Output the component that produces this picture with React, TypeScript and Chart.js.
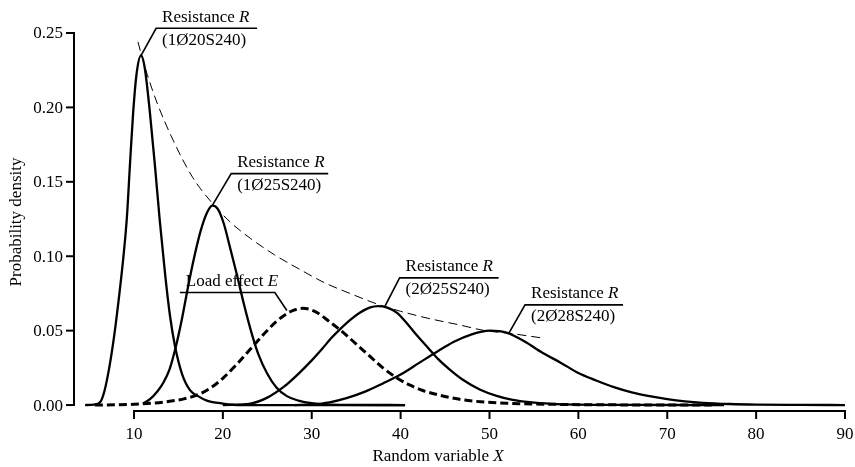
import React, { useEffect, useRef } from "react";
import { Chart, registerables } from "chart.js";

Chart.register(...registerables);

// ---- Data ----
const R1_X = [4.5, 5.5, 6.2, 6.7, 7.3, 7.85, 8.4, 8.8, 9.2, 9.55, 9.9, 10.3, 10.8, 11.2, 11.8, 12.4, 12.9, 13.5, 14.05, 14.6, 15.4, 16.3, 17.2, 18.2, 20, 22, 40.5];
const R1_Y = [0, 0.0003, 0.002, 0.01, 0.028, 0.05, 0.077, 0.099, 0.126, 0.162, 0.196, 0.223, 0.235, 0.227, 0.196, 0.158, 0.124, 0.088, 0.06, 0.04, 0.021, 0.01, 0.006, 0.003, 0.001, 0, 0];

const R2_X = [11.0, 11.8, 12.6, 13.3, 14.0, 14.7, 15.4, 16.1, 16.8, 17.5, 18.2, 18.8, 19.4, 20.1, 20.8, 21.6, 22.4, 23.2, 24.0, 25.0, 26.0, 27.2, 28.5, 30, 32, 40.5];
const R2_Y = [0.001, 0.004, 0.009, 0.015, 0.024, 0.039, 0.058, 0.08, 0.1, 0.117, 0.129, 0.134, 0.132, 0.122, 0.106, 0.087, 0.067, 0.049, 0.034, 0.021, 0.012, 0.006, 0.003, 0.0012, 0.0003, 0];

const LOAD_X = [5.6, 8, 10, 12, 14, 15.5, 17, 18.5, 20, 21.5, 23, 24.5, 26, 27.5, 29, 30.5, 32, 33.5, 35, 36.5, 38, 39.5, 41, 42.5, 44.5, 46.5, 49, 52, 56, 62, 75];
const LOAD_Y = [0, 0.0002, 0.0005, 0.0012, 0.0025, 0.004, 0.0065, 0.011, 0.018, 0.027, 0.037, 0.047, 0.056, 0.0625, 0.065, 0.0625, 0.056, 0.049, 0.041, 0.033, 0.025, 0.0185, 0.0135, 0.0098, 0.0065, 0.004, 0.0022, 0.0012, 0.0006, 0.0002, 0];

const R3_X = [20, 23.1, 25, 26.8, 28.5, 30.0, 31.2, 32.2, 33.2, 34.3, 35.4, 36.5, 37.5, 38.5, 39.6, 40.7, 41.8, 43.0, 44.2, 45.5, 47, 48.9, 50.8, 52.6, 54.5, 57, 60, 65, 76.4];
const R3_Y = [0, 0.001, 0.005, 0.012, 0.021, 0.03, 0.038, 0.045, 0.051, 0.057, 0.062, 0.0655, 0.0665, 0.0655, 0.062, 0.055, 0.047, 0.039, 0.031, 0.024, 0.017, 0.0105, 0.0062, 0.0035, 0.0019, 0.0008, 0.0003, 0.0001, 0];

const R4_X = [28, 30, 32, 34, 36, 38, 40, 42, 44, 46, 48, 50, 52, 54, 56, 58, 60, 62, 64, 66, 68, 70, 72, 74, 77, 80, 85, 90];
const R4_Y = [0, 0.0004, 0.0018, 0.0048, 0.009, 0.0145, 0.0205, 0.028, 0.0355, 0.0425, 0.0475, 0.05, 0.0485, 0.0425, 0.035, 0.0285, 0.0215, 0.0165, 0.012, 0.0085, 0.006, 0.004, 0.0025, 0.0015, 0.0007, 0.0003, 0.0001, 0];

const ENV_X = [10.45, 10.8, 11.5, 12.6, 14.4, 16.6, 18.9, 21, 23.1, 25.8, 28.7, 31.5, 34.3, 37.3, 40, 43.3, 46.5, 49.5, 52.5, 56];
const ENV_Y = [0.244, 0.236, 0.222, 0.203, 0.178, 0.153, 0.135, 0.122, 0.112, 0.101, 0.091, 0.082, 0.075, 0.068, 0.063, 0.058, 0.054, 0.05, 0.048, 0.045];

const X_TICKS = [10, 20, 30, 40, 50, 60, 70, 80, 90];
const Y_TICKS = [0, 0.05, 0.1, 0.15, 0.2, 0.25];
const Y_TICK_LABELS = ["0.00", "0.05", "0.10", "0.15", "0.20", "0.25"];

const X_TITLE = "Random variable ";
const X_TITLE_ITALIC = "X";
const Y_TITLE = "Probability density";

// annotations: anchor in data coords; label text
const ANNOTATIONS = [
  { ax: 10.8, ay: 0.235, line1: "Resistance ", italic: "R", line2: "(1Ø20S240)" },
  { ax: 18.8, ay: 0.134, line1: "Resistance ", italic: "R", line2: "(1Ø25S240)" },
  { ax: 27.2, ay: 0.0635, line1: "Load effect ", italic: "E", line2: "" },
  { ax: 38.2, ay: 0.066, line1: "Resistance ", italic: "R", line2: "(2Ø25S240)" },
  { ax: 52.2, ay: 0.0485, line1: "Resistance ", italic: "R", line2: "(2Ø28S240)" },
];
// layout of annotation leaders (pixel offsets from anchor to elbow, underline width)
const ANNO_LAYOUT = [
  { dx: 15, dy: -27, w: 101 },
  { dx: 19, dy: -32, w: 97 },
  { dx: -12, dy: -18, w: -95 },
  { dx: 15, dy: -29, w: 99 },
  { dx: 16, dy: -28, w: 98 },
];

const zip = (xs: number[], ys: number[]) => xs.map((x, i) => ({ x, y: ys[i] }));

const FONT = '"Liberation Serif", "Times New Roman", serif';

export default function App() {
  const ref = useRef<HTMLCanvasElement | null>(null);

  useEffect(() => {
    document.body.style.margin = "0";
    const canvas = ref.current;
    if (!canvas) return;

    const drawMixed = (ctx: CanvasRenderingContext2D, x: number, y: number, normal: string, italic: string, size: number) => {
      ctx.font = `${size}px ${FONT}`;
      ctx.textAlign = "left";
      ctx.textBaseline = "middle";
      ctx.fillText(normal, x, y);
      const w = ctx.measureText(normal).width;
      ctx.font = `italic ${size}px ${FONT}`;
      ctx.fillText(italic, x + w, y);
      return w + ctx.measureText(italic).width;
    };

    const axesPlugin = {
      id: "customAxes",
      afterDatasetsDraw(chart: any) {
        const ctx: CanvasRenderingContext2D = chart.ctx;
        const xs = chart.scales.x;
        const ys = chart.scales.y;
        ctx.save();
        ctx.strokeStyle = "#000";
        ctx.fillStyle = "#000";
        ctx.lineWidth = 2;
        ctx.setLineDash([]);

        // Y axis
        const yAxisX = chart.chartArea.left;
        const y0 = ys.getPixelForValue(0);
        const yTop = ys.getPixelForValue(0.25);
        ctx.beginPath();
        ctx.moveTo(yAxisX, y0 + 1);
        ctx.lineTo(yAxisX, yTop - 1);
        ctx.stroke();
        ctx.font = `17px ${FONT}`;
        ctx.textAlign = "right";
        ctx.textBaseline = "middle";
        Y_TICKS.forEach((v, i) => {
          const py = ys.getPixelForValue(v);
          ctx.beginPath();
          ctx.moveTo(yAxisX - 8, py);
          ctx.lineTo(yAxisX, py);
          ctx.stroke();
          ctx.fillText(Y_TICK_LABELS[i], yAxisX - 11, py + 1);
        });

        // X axis
        const xAxisY = chart.chartArea.bottom;
        const xl = xs.getPixelForValue(X_TICKS[0]);
        const xr = xs.getPixelForValue(X_TICKS[X_TICKS.length - 1]);
        ctx.beginPath();
        ctx.moveTo(xl - 1, xAxisY);
        ctx.lineTo(xr + 1, xAxisY);
        ctx.stroke();
        ctx.textAlign = "center";
        ctx.textBaseline = "middle";
        X_TICKS.forEach((v) => {
          const px = xs.getPixelForValue(v);
          ctx.beginPath();
          ctx.moveTo(px, xAxisY);
          ctx.lineTo(px, xAxisY + 8);
          ctx.stroke();
          ctx.fillText(String(v), px, xAxisY + 24);
        });

        // X title
        ctx.font = `17px ${FONT}`;
        const wN = ctx.measureText(X_TITLE).width;
        ctx.font = `italic 17px ${FONT}`;
        const wI = ctx.measureText(X_TITLE_ITALIC).width;
        drawMixed(ctx, 438 - (wN + wI) / 2, 457, X_TITLE, X_TITLE_ITALIC, 17);

        // Y title
        ctx.save();
        ctx.translate(17, 222);
        ctx.rotate(-Math.PI / 2);
        ctx.font = `17px ${FONT}`;
        ctx.textAlign = "center";
        ctx.textBaseline = "middle";
        ctx.fillText(Y_TITLE, 0, 0);
        ctx.restore();

        // Annotations
        ctx.lineWidth = 1.6;
        ANNOTATIONS.forEach((a, i) => {
          const L = ANNO_LAYOUT[i];
          const px = xs.getPixelForValue(a.ax);
          const py = ys.getPixelForValue(a.ay);
          const ex = px + L.dx;
          const ey = py + L.dy;
          ctx.beginPath();
          ctx.moveTo(px, py);
          ctx.lineTo(ex, ey);
          ctx.lineTo(ex + L.w, ey);
          ctx.stroke();
          const left = Math.min(ex, ex + L.w);
          drawMixed(ctx, left + 6, ey - 11, a.line1, a.italic, 17);
          if (a.line2) {
            ctx.font = `17px ${FONT}`;
            ctx.textAlign = "left";
            ctx.fillText(a.line2, left + 6, ey + 12);
          }
        });
        ctx.restore();
      },
    };

    const solid = (data: any[]) => ({
      data,
      borderColor: "#000",
      borderWidth: 2.3,
      pointRadius: 0,
      fill: false,
      cubicInterpolationMode: "monotone" as const,
      clip: false as any,
    });

    const chart = new Chart(canvas, {
      type: "line",
      data: {
        datasets: [
          { ...solid(zip(ENV_X, ENV_Y)), borderWidth: 1, borderDash: [9, 5] },
          solid(zip(R1_X, R1_Y)),
          solid(zip(R2_X, R2_Y)),
          { ...solid(zip(LOAD_X, LOAD_Y)), borderWidth: 3, borderDash: [8, 4] },
          solid(zip(R3_X, R3_Y)),
          solid(zip(R4_X, R4_Y)),
        ],
      },
      options: {
        responsive: false,
        animation: false,
        parsing: true,
        layout: { padding: { left: 74, right: 10, top: 33, bottom: 56 } },
        plugins: { legend: { display: false }, tooltip: { enabled: false } },
        scales: {
          x: { type: "linear", min: 3.25, max: 90, display: false },
          y: { type: "linear", min: -0.004, max: 0.25, display: false },
        },
      },
      plugins: [axesPlugin],
    });
    return () => chart.destroy();
  }, []);

  return <canvas ref={ref} width={855} height={467} style={{ display: "block" }} />;
}
